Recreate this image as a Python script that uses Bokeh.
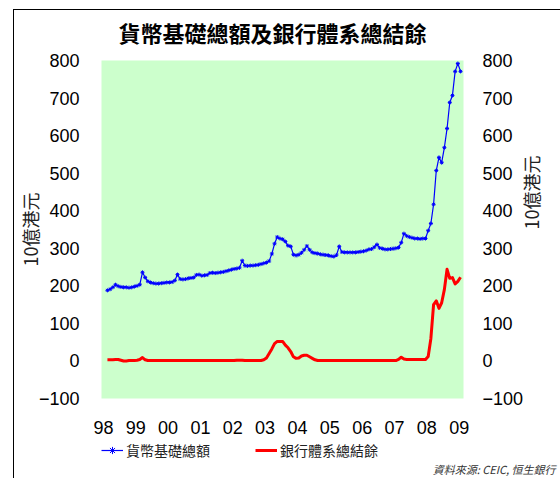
import math
from bokeh.plotting import figure
from bokeh.models import Range1d, FixedTicker, LinearAxis, Legend, LegendItem, Title
from bokeh.layouts import column
from bokeh.embed import file_html
from bokeh.resources import INLINE
import numpy as np

# ---- data (monthly, HK$ bn) ----
years = ["98", "99", "00", "01", "02", "03", "04", "05", "06", "07", "08", "09"]

monetary_base = [
    188, 191, 196, 203, 199, 197, 196, 196, 195, 196, 198, 200,
    203, 236, 222, 212, 209, 207, 206, 206, 207, 208, 209, 209,
    210, 214, 230, 218, 217, 218, 220, 221, 222, 229, 230, 227,
    228, 229, 234, 235, 234, 235, 236, 237, 239, 241, 243, 245,
    246, 248, 267, 254, 253, 254, 254, 255, 256, 258, 260, 262,
    266, 285, 312, 330, 326, 324, 318, 307, 305, 283, 281, 283,
    288, 296, 306, 296, 289, 287, 286, 284, 283, 282, 281, 279,
    278, 282, 305, 290, 289, 289, 289, 289, 289, 290, 291, 292,
    294, 297, 298, 303, 310, 301, 299, 297, 297, 298, 299, 300,
    302, 315, 339, 333, 330, 328, 326, 326, 325, 326, 326, 347,
    366, 417, 507, 542, 528, 568, 619, 688, 707, 771, 792, 771,
]

aggregate_balance = [
    3, 3, 3, 4, 4, 2, 0, 0, 1, 1, 1, 2,
    4, 9, 3, 1, 1, 1, 1, 1, 1, 1, 1, 1,
    1, 1, 1, 1, 1, 1, 1, 1, 1, 1, 1, 1,
    1, 1, 1, 1, 1, 1, 1, 1, 1, 1, 1, 1,
    2, 2, 2, 1, 1, 1, 1, 1, 1, 1, 3, 8,
    20, 32, 46, 52, 52, 52, 42, 35, 25, 11, 7, 8,
    13, 15, 15, 11, 7, 3, 1, 1, 1, 1, 1, 1,
    1, 1, 1, 1, 1, 1, 1, 1, 1, 1, 1, 1,
    1, 1, 1, 1, 1, 1, 1, 1, 1, 1, 1, 1,
    4, 10, 5, 4, 4, 4, 4, 4, 4, 4, 4, 12,
    60, 150, 160, 140, 155, 190, 244, 220, 222, 205, 212, 223,
]

series_names = ["貨幣基礎總額", "銀行體系總結餘"]
source_text = "資料來源: CEIC, 恒生銀行"

months = np.arange(len(monetary_base))
year_ticks = [12 * k - 1.5 for k in range(len(years))]

FONT = "Liberation Sans, Noto Sans CJK TC"
CJK = "Noto Sans CJK TC, Liberation Sans"
BLUE = "#0000FF"
RED = "#FF0000"

# ---------------- main chart ----------------
p = figure(width=560, height=440, output_backend="svg", toolbar_location=None,
           x_range=Range1d(-2.2, 132.1), y_range=Range1d(-100, 800),
           min_border_left=101, min_border_right=94, min_border_top=60, min_border_bottom=42,
           background_fill_color="#CCFFCC", border_fill_color=None)
p.outline_line_color = None
p.xgrid.visible = False
p.ygrid.visible = False

p.title.text = "貨幣基礎總額及銀行體系總結餘"
p.title.text_font = CJK
p.title.text_font_size = "22px"
p.title.text_font_style = "bold"
p.title.text_color = "black"
p.title.align = "left"
p.title.offset = 17
p.title.standoff = 25

right_axis = LinearAxis()
p.add_layout(right_axis, "right")

for ax in [p.yaxis[0], right_axis]:
    ax.ticker = FixedTicker(ticks=list(range(-100, 801, 100)))
    ax.axis_line_color = None
    ax.major_tick_line_color = None
    ax.minor_tick_line_color = None
    ax.major_label_text_font = FONT
    ax.major_label_text_font_size = "18px"
    ax.major_label_text_color = "black"
    ax.axis_label = "10億港元"
    ax.axis_label_text_font = CJK
    ax.axis_label_text_font_size = "18px"
    ax.axis_label_text_font_style = "normal"
    ax.axis_label_text_color = "#222222"
p.yaxis[0].major_label_standoff = 16
p.yaxis[0].axis_label_standoff = -7
right_axis.major_label_standoff = 13
right_axis.axis_label_standoff = 5
right_axis.axis_label_orientation = math.pi / 2

xa = p.xaxis[0]
xa.ticker = FixedTicker(ticks=year_ticks)
xa.major_label_overrides = {t: y for t, y in zip(year_ticks, years)}
xa.axis_line_color = None
xa.major_tick_line_color = None
xa.minor_tick_line_color = None
xa.major_label_text_font = FONT
xa.major_label_text_font_size = "18px"
xa.major_label_text_color = "black"
xa.major_label_standoff = 16

p.line(months, aggregate_balance, line_color=RED, line_width=3, line_join="round")
p.line(months, monetary_base, line_color=BLUE, line_width=1.2)
p.scatter(months, monetary_base, marker="asterisk", size=4, line_color=BLUE, line_width=1)

# ---------------- legend / source strip ----------------
p2 = figure(width=560, height=38, output_backend="svg", toolbar_location=None,
            x_axis_location=None, y_axis_location=None,
            x_range=Range1d(-1000, -999), y_range=Range1d(-1000, -999),
            min_border=0, border_fill_color=None, background_fill_color=None)
p2.outline_line_color = None
p2.grid.visible = False

lb = p2.line(months, monetary_base, line_color=BLUE, line_width=1.2)
lbm = p2.scatter(months, monetary_base, marker="asterisk", size=5, line_color=BLUE, line_width=1)
lr = p2.line(months, aggregate_balance, line_color=RED, line_width=3)

legend = Legend(items=[LegendItem(label=series_names[0], renderers=[lb, lbm]),
                       LegendItem(label=series_names[1], renderers=[lr])],
                orientation="horizontal", location="bottom_left",
                border_line_color=None, background_fill_alpha=0,
                label_text_font=CJK, label_text_font_size="14px", label_text_color="#222222",
                glyph_width=22, glyph_height=18, label_height=18, label_standoff=3, spacing=45,
                padding=4, margin=0)
p2.add_layout(legend, "center")

src = Title(text=source_text, align="right", offset=-92, vertical_align="top", text_font=CJK,
            text_font_size="11px", text_font_style="italic", text_color="#333333", standoff=0)
p2.add_layout(src, "below")

layout = column(p, p2, spacing=0, styles={
    "background-image": "linear-gradient(#000, #000), linear-gradient(#000, #000)",
    "background-position": "13px 9px, 13px 9px",
    "background-size": "1px 100%, 100% 1px",
    "background-repeat": "no-repeat",
})

open("out.html", "w").write(file_html(layout, INLINE))
